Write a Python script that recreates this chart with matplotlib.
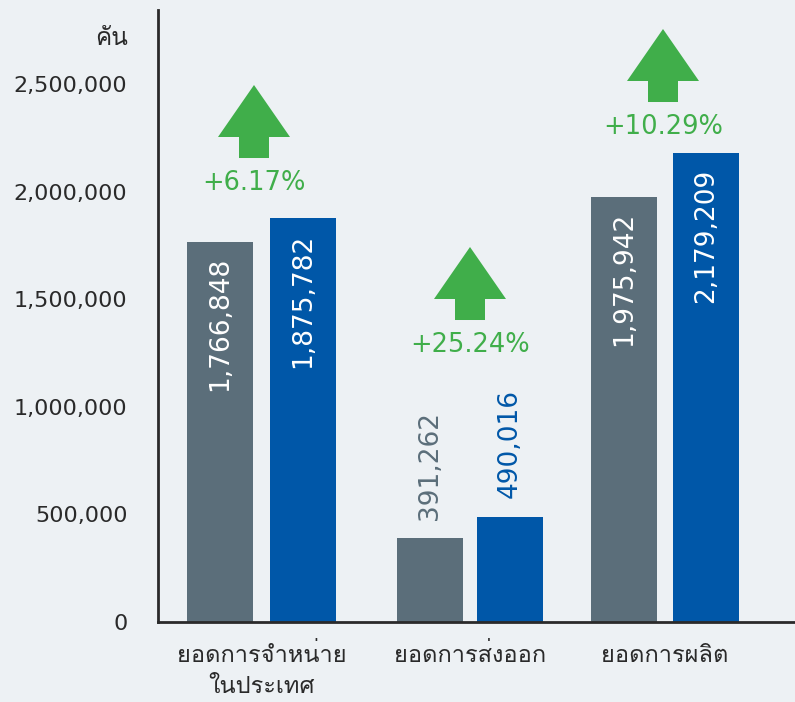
import matplotlib
matplotlib.use('Agg')
import matplotlib.pyplot as plt
from matplotlib import font_manager
from matplotlib.ft2font import FT2Font

# ข้อมูล
categories = ['ยอดการจำหน่าย\nในประเทศ', 'ยอดการส่งออก', 'ยอดการผลิต']
prev_year = [1766848, 391262, 1975942]
this_year = [1875782, 490016, 2179209]
growth = ['+6.17%', '+25.24%', '+10.29%']
y_ticks = [0, 500000, 1000000, 1500000, 2000000, 2500000]
unit = 'คัน'

# หาฟอนต์ที่มีตัวอักษรไทย
thai_family = None
for f in font_manager.fontManager.ttflist:
    try:
        if 0x0E01 in FT2Font(f.fname).get_charmap():
            thai_family = f.name
            break
    except Exception:
        pass
families = ['DejaVu Sans']
if thai_family:
    families = ['DejaVu Sans', thai_family]
plt.rcParams['font.family'] = families

bg = '#edf1f4'
gray = '#5b6e7a'
blue = '#0057a8'
green = '#40ae4a'
text_col = '#2a2a2a'

fig = plt.figure(figsize=(7.95, 7.02), dpi=100, facecolor=bg)
ax = fig.add_axes([158 / 795, 80 / 702, 637 / 795, 612 / 702])
ax.set_facecolor(bg)

# ตำแหน่งแท่ง (หน่วยพิกเซลในแกน)
gray_x = [62, 272, 466]
blue_x = [145, 352, 548]
bar_w = 66
ax.bar(gray_x, prev_year, width=bar_w, color=gray)
ax.bar(blue_x, this_year, width=bar_w, color=blue)

ax.set_xlim(0, 637)
ax.set_ylim(0, 612 / 2.1522e-4)

# ตัวเลขบนแท่ง
for i in range(3):
    for x, v, c in ((gray_x[i], prev_year[i], gray), (blue_x[i], this_year[i], blue)):
        if v > 1000000:
            ax.annotate('{:,}'.format(v), (x, v), xytext=(0, -11), textcoords='offset points',
                        rotation=90, ha='center', va='top', color='white', fontsize=19)
        else:
            ax.annotate('{:,}'.format(v), (x, v), xytext=(0, 13), textcoords='offset points',
                        rotation=90, ha='center', va='bottom', color=c, fontsize=19)

# ลูกศรและเปอร์เซ็นต์
arrow_x = [96, 312, 505]
arrow_base = [2155900, 1403200, 2416100]
shaft_len = 97600
head_len = 241600
for i in range(3):
    ax.arrow(arrow_x[i], arrow_base[i], 0, shaft_len, width=30, head_width=72,
             head_length=head_len, length_includes_head=False, color=green, lw=0)
    ax.annotate(growth[i], (arrow_x[i], arrow_base[i]), xytext=(0, -18), textcoords='offset points',
                ha='center', va='center', color=green, fontsize=18.5)

ax.spines['top'].set_visible(False)
ax.spines['right'].set_visible(False)
ax.spines['left'].set_linewidth(2)
ax.spines['bottom'].set_linewidth(2)
ax.spines['left'].set_color(text_col)
ax.spines['bottom'].set_color(text_col)

ax.set_yticks(y_ticks)
ax.set_yticklabels(['{:,}'.format(t) for t in y_ticks], fontsize=16, color=text_col)
ax.set_xticks([(g + b) / 2 for g, b in zip(gray_x, blue_x)])
ax.set_xticklabels(categories, fontsize=17, color=text_col, linespacing=1.4)
ax.tick_params(axis='y', length=0, pad=22)
ax.tick_params(axis='x', length=0, pad=15)

fig.text(128 / 795, 1 - 38 / 702, unit, ha='right', va='center', fontsize=17.5, color=text_col)

fig.savefig('out.png', dpi=100, facecolor=bg)
